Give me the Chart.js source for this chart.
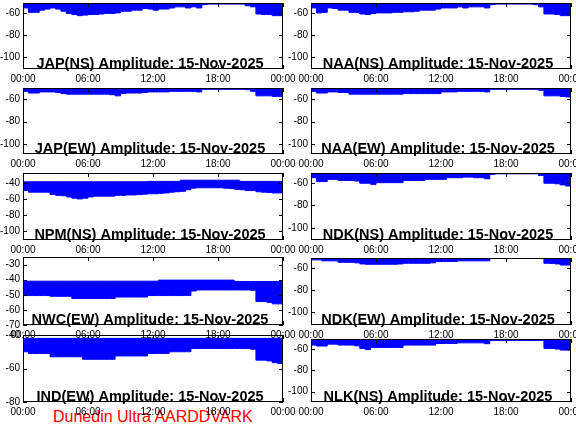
<!DOCTYPE html>
<html>
<head>
<meta charset="utf-8">
<script src="https://cdn.jsdelivr.net/npm/chart.js@4"></script>
<style>
  body { margin: 0; width: 576px; height: 432px; position: relative; overflow: hidden; background: #fff; }
  canvas { position: absolute; }
  #footer { position: absolute; left: 53px; top: 409px; font: 16px/16px "Liberation Sans", Arial, sans-serif; color: #f00; white-space: nowrap; }
</style>
</head>
<body>
<div id="footer">Dunedin Ultra AARDDVARK</div>
<script>
// ==========================================
// DATA (dB amplitude, half-hour samples, UT)
// ==========================================
const sampleHours = [0, 0.5, 1, 1.5, 2, 2.5, 3, 3.5, 4, 4.5, 5, 5.5, 6, 6.5, 7, 7.5, 8, 8.5, 9, 9.5,
  10, 10.5, 11, 11.5, 12, 12.5, 13, 13.5, 14, 14.5, 15, 15.5, 16, 16.5, 17, 17.5, 18, 18.5, 19, 19.5,
  20, 20.5, 21, 21.5, 22, 22.5, 23, 23.5, 24];

const hourTicks = [0, 6, 12, 18, 24];

// y tick values
const ticksWide = [-100, -80, -60];
const ticksNpm = [-100, -80, -60, -40];
const ticksNwc = [-70, -60, -50, -40, -30];
const ticksInd = [-80, -60, -40];

const japNsLow = [-54, -55, -59, -59, -57, -56, -55, -56, -58, -60,
  -61, -62, -61.5, -61, -61, -60.5, -60, -60, -59.5, -58,
  -58, -57, -57, -55.5, -56, -57, -56, -56, -55, -54,
  -54, -55, -54, -55, -52, -51.5, -51.5, -51.5, -51.5, -51.5,
  -51.5, -51.5, -53, -54, -60.5, -61, -61, -62, -62];

const japEwLow = [-52.5, -53, -54.5, -54.5, -53.5, -53.5, -53.5, -54, -55, -55.5,
  -55.5, -55.5, -55.5, -55.5, -55.5, -55.5, -55.5, -56, -57, -55,
  -54.5, -54.5, -54.5, -54, -53.5, -53.5, -53.5, -53.5, -53, -53,
  -53, -53, -53, -53.5, -51.2, -51.2, -51.2, -51.2, -51.2, -51.2,
  -51.2, -51.2, -51.5, -53, -57, -57, -57, -57.5, -57.5];

const npmNsHigh = [-38, -38, -38, -38, -38, -38, -38, -38, -38, -38,
  -38, -38, -38, -38, -38, -38, -38, -38, -38, -38,
  -38, -38, -38, -38, -37.5, -37.5, -37.5, -37.5, -37.5, -37.5,
  -36, -36, -36, -36, -36, -36, -36, -36, -36, -36,
  -36, -37.5, -37.5, -37.5, -37.5, -37.5, -37.5, -37.5, -37.5];
const npmNsLow = [-49, -49, -51, -51, -51, -51, -54, -55, -55.5, -57,
  -58.5, -59.5, -58.5, -57, -56, -56, -56, -56, -55, -55,
  -54.5, -54.5, -54, -53.5, -53, -53, -52.5, -52, -51, -50.5,
  -50, -48, -46, -45.5, -45.5, -45.5, -45.5, -45.5, -46, -46.5,
  -47.5, -48, -49, -49, -50.5, -51, -51.5, -52, -52];

const nwcEwHigh = [-41, -41, -41, -41, -41, -41, -41, -41, -41, -41,
  -41, -41, -41, -41, -41, -41, -41, -41, -41, -41,
  -41, -41, -41, -41, -41, -41, -40.3, -40.3, -40.3, -40.3,
  -40.3, -40.3, -40.3, -40.3, -40.3, -40.3, -40.3, -40.3, -40.3, -40.3,
  -41.2, -41.2, -41.2, -41.2, -41.2, -41.2, -41.2, -41.2, -41.2];
const nwcEwLow = [-50.5, -50.5, -50.5, -50.5, -50.5, -50.5, -51, -51, -51, -51,
  -52.5, -52.5, -52.5, -52.5, -52.5, -52.5, -52.5, -52.5, -51.5, -51.5,
  -51.5, -51.5, -51.5, -51.5, -50.5, -50.5, -50.5, -50.5, -50.5, -50.5,
  -50.5, -50.5, -47.5, -46.8, -46.8, -46.8, -46.8, -46.8, -46.8, -46.8,
  -46.8, -46.8, -46.8, -47, -54.5, -54.5, -55, -56, -56];

const indEwHigh = [-42, -42, -42, -42, -42, -42, -42, -42, -42, -42,
  -42, -42, -42, -42, -42, -42, -42, -42, -42, -42,
  -42, -42, -42, -42, -42, -42, -42, -42, -42, -42,
  -42, -42, -42, -42, -42, -42, -42, -42, -42, -42,
  -42, -42, -42, -42, -42, -42, -42, -42, -42];
const indEwLow = [-50, -50, -51, -51, -51, -51, -53, -53, -53, -53,
  -53, -53, -54.5, -54.5, -54.5, -54.5, -54.5, -54.5, -52.5, -52.5,
  -52.5, -52.5, -52.5, -52.5, -51, -51, -51, -51, -50, -50,
  -50, -50, -48, -48, -48, -48, -48, -48, -48, -48,
  -48, -48, -48, -48.5, -55, -55, -55.5, -56.5, -57];

const naaNsLow = [-53, -55, -59.5, -59, -55, -55.5, -57, -57, -59, -59,
  -60.5, -61, -60, -59.5, -59.5, -59.5, -59, -59, -58.5, -58.5,
  -58, -57, -57, -57, -56, -55, -55, -55, -54, -55,
  -54, -54, -54, -55, -52, -51.5, -51.5, -51.5, -51.5, -51.5,
  -51.5, -51.5, -52, -54, -60.5, -60.5, -61, -62, -62];

const naaEwLow = [-52.5, -53, -54.5, -54.5, -53.5, -53.5, -54, -54, -55.5, -55.5,
  -55.5, -55.5, -55.5, -55.5, -55.5, -55.5, -55.5, -55.5, -55, -55,
  -55, -55, -55, -55, -55, -53.5, -53.5, -53.5, -53, -53,
  -53, -53, -53, -53.5, -51.2, -51.2, -51.2, -51.2, -51.2, -51.2,
  -51.2, -51.2, -51.2, -52, -57, -57, -57, -57.5, -58];

const ndkNsLow = [-53.5, -55, -58.5, -58.5, -56.5, -56.5, -57.5, -57.5, -57.5, -58,
  -60, -60, -61, -59.5, -59.5, -59.5, -59.5, -59.5, -57.5, -57.5,
  -57.5, -57.5, -56.5, -56.5, -56.5, -56.5, -55, -55, -55, -54.5,
  -54.5, -55, -55, -56, -52, -51.5, -51.5, -51.5, -51.5, -51.5,
  -51.5, -51.5, -51.5, -53, -60, -60, -60.5, -61.5, -62.5];

const ndkEwLow = [-52.3, -52.3, -52.3, -53.2, -53.2, -53.2, -54.5, -54.5, -54.5, -55,
  -56, -56.3, -56.3, -56.3, -56.3, -56.3, -56.3, -56, -55.4, -55.4,
  -55.4, -55.4, -55.4, -55, -53.8, -53.8, -53.8, -53.8, -53.2, -53.2,
  -53.2, -53.2, -53.2, -53.2, -50.8, -50.8, -50.8, -50.8, -50.8, -50.8,
  -50.8, -50.8, -50.8, -50.8, -55.4, -55.5, -56, -57, -57];

const nlkNsLow = [-53.2, -56.3, -57.2, -57.2, -55.4, -55.4, -56.3, -56.3, -56.3, -57,
  -59.4, -60.5, -58.5, -58.5, -58.5, -58.5, -58.5, -58.5, -56.3, -56.3,
  -56.3, -56.3, -56.3, -56.3, -54.8, -54.8, -54.8, -54.8, -54.2, -54.2,
  -54.2, -54.2, -54.2, -55, -52, -52, -52, -52, -52, -52,
  -52, -52, -52, -52, -59.4, -59.4, -60, -61, -61];

// ==========================================
// PANELS (col, plot top/bottom in page px, y range)
// ==========================================
const panels = [
  { title: 'JAP(NS) Amplitude: 15-Nov-2025', col: 0, top: 3,   bottom: 69,  yMin: -110.5, yMax: -50.5, yTicks: ticksWide, low: japNsLow },
  { title: 'JAP(EW) Amplitude: 15-Nov-2025', col: 0, top: 88,  bottom: 154, yMin: -109,   yMax: -50,   yTicks: ticksWide, low: japEwLow },
  { title: 'NPM(NS) Amplitude: 15-Nov-2025', col: 0, top: 173, bottom: 240, yMin: -111,   yMax: -27,   yTicks: ticksNpm,  low: npmNsLow, high: npmNsHigh },
  { title: 'NWC(EW) Amplitude: 15-Nov-2025', col: 0, top: 257, bottom: 325, yMin: -70,    yMax: -25,   yTicks: ticksNwc,  low: nwcEwLow, high: nwcEwHigh },
  { title: 'IND(EW) Amplitude: 15-Nov-2025', col: 0, top: 335, bottom: 402, yMin: -80,    yMax: -40,   yTicks: ticksInd,  low: indEwLow, high: indEwHigh },
  { title: 'NAA(NS) Amplitude: 15-Nov-2025', col: 1, top: 3,   bottom: 69,  yMin: -110.5, yMax: -50.5, yTicks: ticksWide, low: naaNsLow },
  { title: 'NAA(EW) Amplitude: 15-Nov-2025', col: 1, top: 88,  bottom: 154, yMin: -109,   yMax: -50,   yTicks: ticksWide, low: naaEwLow },
  { title: 'NDK(NS) Amplitude: 15-Nov-2025', col: 1, top: 173, bottom: 240, yMin: -111,   yMax: -50.8, yTicks: ticksWide, low: ndkNsLow },
  { title: 'NDK(EW) Amplitude: 15-Nov-2025', col: 1, top: 258, bottom: 325, yMin: -111.5, yMax: -50.6, yTicks: ticksWide, low: ndkEwLow },
  { title: 'NLK(NS) Amplitude: 15-Nov-2025', col: 1, top: 339, bottom: 402, yMin: -109.6, yMax: -50.6, yTicks: ticksWide, low: nlkNsLow },
];

Chart.defaults.font.family = '"Liberation Sans", Arial, Helvetica, sans-serif';
Chart.defaults.font.size = 10;
Chart.defaults.color = '#000';

// frame, inward ticks and the panel title
const framePlugin = {
  id: 'frame',
  afterDraw(chart, args, opts) {
    const { ctx, chartArea: a, scales: { x, y } } = chart;
    ctx.save();
    ctx.strokeStyle = '#000';
    ctx.lineWidth = 1;
    ctx.strokeRect(a.left + 0.5, a.top + 0.5, a.right - a.left - 1, a.bottom - a.top - 1);
    ctx.beginPath();
    y.ticks.forEach(t => {
      const py = Math.round(y.getPixelForValue(t.value)) + 0.5;
      ctx.moveTo(a.left, py); ctx.lineTo(a.left + 4, py);
      ctx.moveTo(a.right - 4, py); ctx.lineTo(a.right, py);
    });
    x.ticks.forEach(t => {
      const px = Math.round(x.getPixelForValue(t.value)) + 0.5;
      ctx.moveTo(px, a.bottom); ctx.lineTo(px, a.bottom - 4);
      ctx.moveTo(px, a.top); ctx.lineTo(px, a.top + 4);
    });
    ctx.stroke();
    ctx.fillStyle = '#000';
    ctx.font = 'bold 14.5px "Liberation Sans", Arial, Helvetica, sans-serif';
    ctx.textAlign = 'center';
    ctx.textBaseline = 'alphabetic';
    ctx.fillText(opts.title, (a.left + a.right) / 2 - 3, a.bottom - 1);
    ctx.restore();
  }
};

const PAD_TOP = 8, AXIS_H = 18, Y_AXIS_W = 23;

panels.forEach(p => {
  const cv = document.createElement('canvas');
  const w = p.col === 0 ? 300 : 288;
  const padRight = p.col === 0 ? 17 : 5;
  cv.width = w;
  cv.height = (p.bottom - p.top) + PAD_TOP + AXIS_H;
  cv.style.left = (p.col * 288) + 'px';
  cv.style.top = (p.top - PAD_TOP) + 'px';
  document.body.appendChild(cv);

  const toXY = arr => arr.map((v, i) => ({ x: sampleHours[i], y: v }));
  const common = { pointRadius: 0, borderWidth: 1, borderColor: '#0000ff', backgroundColor: '#0000ff', stepped: 'after', tension: 0 };
  const datasets = [];
  if (p.high) {
    datasets.push({ ...common, data: toXY(p.high), fill: false });
    datasets.push({ ...common, data: toXY(p.low), fill: '-1' });
  } else {
    datasets.push({ ...common, data: toXY(p.low), fill: 'end' });
  }

  new Chart(cv, {
    type: 'line',
    data: { datasets },
    plugins: [framePlugin],
    options: {
      responsive: false,
      animation: false,
      devicePixelRatio: 1,
      layout: { padding: { top: PAD_TOP, right: padRight, left: 0, bottom: 0 } },
      plugins: {
        legend: { display: false },
        tooltip: { enabled: false },
        frame: { title: p.title }
      },
      scales: {
        x: {
          type: 'linear',
          min: hourTicks[0],
          max: hourTicks[hourTicks.length - 1],
          grid: { display: false, drawTicks: false },
          border: { display: false },
          afterBuildTicks: s => { s.ticks = hourTicks.map(v => ({ value: v })); },
          afterFit: s => { s.height = AXIS_H; s.paddingLeft = 0; s.paddingRight = 0; },
          ticks: {
            padding: 4,
            maxRotation: 0,
            autoSkip: false,
            callback: v => String(v % 24).padStart(2, '0') + ':00'
          }
        },
        y: {
          min: p.yMin,
          max: p.yMax,
          grid: { display: false, drawTicks: false },
          border: { display: false },
          afterBuildTicks: s => { s.ticks = p.yTicks.map(v => ({ value: v })); },
          afterFit: s => { s.width = Y_AXIS_W; s.paddingTop = 0; s.paddingBottom = 0; },
          ticks: { padding: 3 }
        }
      }
    }
  });
});
</script>
</body>
</html>
